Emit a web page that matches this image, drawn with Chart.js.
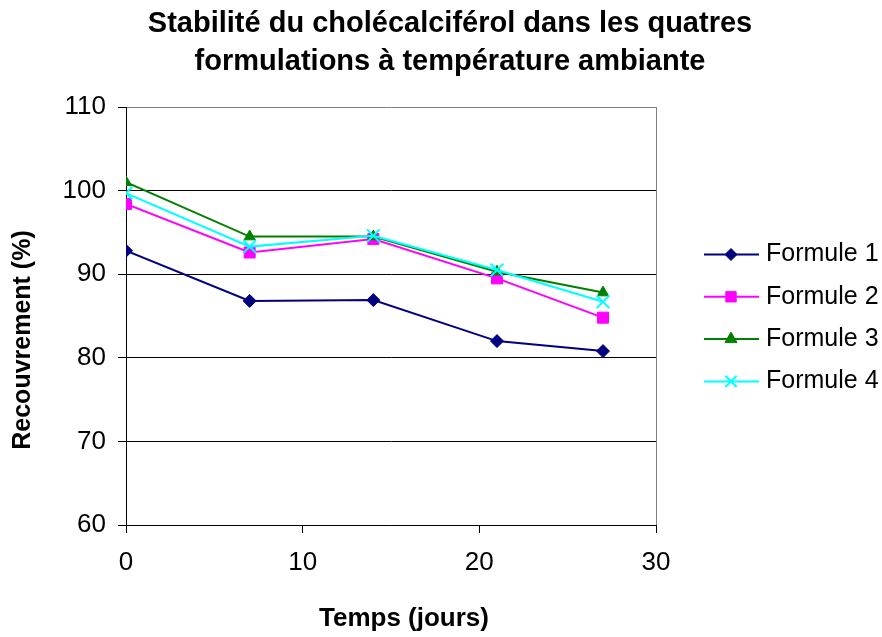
<!DOCTYPE html>
<html>
<head>
<meta charset="utf-8">
<script src="https://cdn.jsdelivr.net/npm/chart.js@4"></script>
<style>
  html, body { margin: 0; padding: 0; background: #fff; }
</style>
</head>
<body>
<canvas id="stab-chart" width="882" height="637"></canvas>
<script>
// sampling days
const days = [0, 7, 14, 21, 27];

// recovery (%) per formulation
const formule1 = [92.8, 86.8, 86.9, 82.0, 80.8];
const formule2 = [98.4, 92.6, 94.2, 89.5, 84.8];
const formule3 = [101.0, 94.5, 94.5, 90.3, 87.8];
const formule4 = [99.7, 93.3, 94.6, 90.5, 86.7];

const seriesNames = ['Formule 1', 'Formule 2', 'Formule 3', 'Formule 4'];
const xTicks = [0, 10, 20, 30];
const yTicks = [60, 70, 80, 90, 100, 110];
const xTitle = 'Temps (jours)';
const yTitle = 'Recouvrement (%)';

const FONT = '"Liberation Sans", Arial, sans-serif';
Chart.defaults.font.family = FONT;
Chart.defaults.color = '#000';

const styles = [
    { color: '#000080', pointStyle: 'rectRot', radius: 6.5, legendRadius: 6, borderWidth: 1 },
    { color: '#ff00ff', pointStyle: 'rect', radius: 7.8, legendRadius: 7.3, borderWidth: 1 },
    { color: '#008000', pointStyle: 'triangle', radius: 6.5, legendRadius: 7, borderWidth: 1 },
    { color: '#00ffff', pointStyle: 'crossRot', radius: 9, legendRadius: 8, borderWidth: 2 },
];

const values = [formule1, formule2, formule3, formule4];

const datasets = values.map((vals, i) => ({
    label: seriesNames[i],
    data: vals.map((v, j) => ({ x: days[j], y: v })),
    borderColor: styles[i].color,
    backgroundColor: styles[i].color,
    borderWidth: 2,
    pointStyle: styles[i].pointStyle,
    pointRadius: styles[i].radius,
    pointBorderWidth: styles[i].borderWidth,
    pointBackgroundColor: styles[i].color,
    pointBorderColor: styles[i].color,
    tension: 0,
    fill: false,
    order: values.length - 1 - i,
}));

// axis titles and the legend on the right (line + marker + label)
const chartLabels = {
    id: 'chartLabels',
    afterDraw(chart) {
        const ctx = chart.ctx;
        ctx.save();
        ctx.fillStyle = '#000';
        ctx.textAlign = 'center';
        ctx.textBaseline = 'middle';

        ctx.font = 'bold 26px ' + FONT;
        ctx.fillText(xTitle, 404, 619);

        ctx.font = 'bold 25px ' + FONT;
        ctx.save();
        ctx.translate(23, 340);
        ctx.rotate(-Math.PI / 2);
        ctx.fillText(yTitle, 0, 0);
        ctx.restore();

        const x0 = 704, x1 = 759, xm = 731, xt = 766;
        const top = 254.5, step = 42.3;
        chart.data.datasets.forEach((ds, i) => {
            const y = top + i * step;
            const st = styles[i];
            ctx.strokeStyle = ds.borderColor;
            ctx.fillStyle = ds.borderColor;
            ctx.lineWidth = 2;
            ctx.beginPath();
            ctx.moveTo(x0, y);
            ctx.lineTo(x1, y);
            ctx.stroke();
            ctx.lineWidth = st.borderWidth;
            Chart.helpers.drawPoint(ctx, {
                pointStyle: st.pointStyle,
                radius: st.legendRadius,
                rotation: 0,
                borderWidth: st.borderWidth,
            }, xm, y);
            ctx.fillStyle = '#000';
            ctx.font = '25px ' + FONT;
            ctx.textAlign = 'left';
            ctx.fillText(ds.label, xt, y);
        });
        ctx.restore();
    }
};

new Chart(document.getElementById('stab-chart'), {
    type: 'line',
    data: { datasets: datasets },
    options: {
        responsive: false,
        animation: false,
        layout: { padding: { left: 18, right: 0, top: 0, bottom: 0 } },
        plugins: {
            legend: { display: false },
            tooltip: { enabled: false },
            title: {
                display: true,
                text: ['Stabilité du cholécalciférol dans les quatres', 'formulations à température ambiante'],
                color: '#000',
                font: { size: 29, weight: 'bold', lineHeight: '38px' },
                padding: { top: 5, bottom: 26 },
            },
        },
        scales: {
            x: {
                type: 'linear',
                min: 0,
                max: 30,
                afterBuildTicks: (s) => { s.ticks = xTicks.map(v => ({ value: v })); },
                afterFit: (s) => { s.height = 112; },
                grid: {
                    drawOnChartArea: true,
                    color: (c) => (c.tick && c.tick.value === 30 ? '#808080' : 'rgba(0,0,0,0)'),
                    tickColor: '#000',
                    tickLength: 8,
                    lineWidth: 1,
                },
                border: { color: '#000', width: 1 },
                ticks: { font: { size: 26 }, padding: 14, maxRotation: 0 },
            },
            y: {
                type: 'linear',
                min: 60,
                max: 110,
                afterBuildTicks: (s) => { s.ticks = yTicks.map(v => ({ value: v })); },
                afterFit: (s) => { s.width = 108; },
                grid: {
                    color: (c) => (c.tick && c.tick.value === 110 ? '#808080' : '#000'),
                    tickColor: '#000',
                    tickLength: 8,
                    lineWidth: 1,
                },
                border: { color: '#000', width: 1 },
                ticks: { font: { size: 26 }, padding: 12 },
            },
            // empty axis that keeps room for the legend
            side: {
                type: 'linear',
                position: 'right',
                afterFit: (s) => { s.width = 226; },
                grid: { display: false },
                border: { display: false },
                ticks: { display: false },
            },
        },
    },
    plugins: [chartLabels],
});
</script>
</body>
</html>
